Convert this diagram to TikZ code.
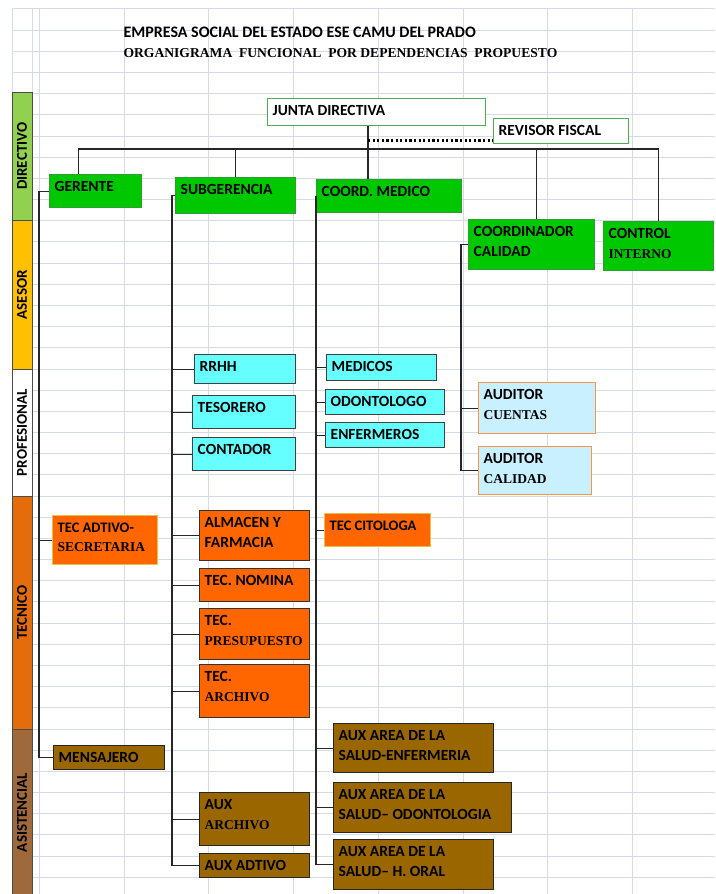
\documentclass[tikz,border=0pt]{standalone}
\usepackage{fontspec}
\setmainfont{Carlito}
\newfontfamily\tms{Liberation Serif}
\usepackage{tikz}
\usetikzlibrary{arrows.meta}

\definecolor{gridc}{HTML}{D5DAE6}
\definecolor{bandgreen}{HTML}{92D050}
\definecolor{bandyellow}{HTML}{FFC000}
\definecolor{bandorange}{HTML}{E46C0A}
\definecolor{bandbrown}{HTML}{A0693C}
\definecolor{boxgreen}{HTML}{00C800}
\definecolor{boxgreenline}{HTML}{2E9E2E}
\definecolor{framegreen}{HTML}{4CAF50}
\definecolor{cyanfill}{HTML}{66FFFF}
\definecolor{orangefill}{HTML}{FF6600}
\definecolor{goldline}{HTML}{E8C04A}
\definecolor{brownfill}{HTML}{996600}
\definecolor{paleblue}{HTML}{C9F0FF}
\definecolor{paleline}{HTML}{F79646}

\newcommand\srf[1]{{\tms\fontsize{13.5}{19.5}\selectfont #1}}

\tikzset{
    box/.style={anchor=north west, inner sep=0pt, line width=1.2pt},
    greenbox/.style={box, fill=boxgreen, draw=boxgreenline},
    topbox/.style={box, fill=white, draw=framegreen},
    cyanbox/.style={box, fill=cyanfill, draw=black!75},
    orangebox/.style={box, fill=orangefill, draw=black!80},
    techbox/.style={box, fill=orangefill, draw=goldline},
    brownbox/.style={box, fill=brownfill, draw=black!85},
    palebox/.style={box, fill=paleblue, draw=paleline},
    lbl/.style={anchor=north west, align=left, inner xsep=5.5pt, inner ysep=7.5pt,
        font=\fontsize{15.5}{19.5}\selectfont\bfseries},
    narrow/.style={font=\fontsize{14.5}{19.5}\selectfont\bfseries},
    band/.style={draw=black!70, line width=0.8pt, rotate=90, minimum height=20,
        inner sep=0pt, font=\fontsize{15}{18}\selectfont\bfseries},
    gridline/.style={draw=gridc, line width=0.9pt},
    link/.style={draw=black!85, line width=1.1pt},
    dots/.style={draw=black, line width=2.3pt, dash pattern=on 2.2pt off 2.4pt}
}

\begin{document}
\begin{tikzpicture}[x=1pt,y=-1pt]
    \useasboundingbox (0,0) rectangle (715,894);
    \fill[white] (0,0) rectangle (715,894);
    \foreach \gx in {12,32,39.5,124.2,208.9,293.6,378.3,463,547.7,632.4,717}
        \draw[gridline] (\gx,8.9) -- (\gx,894);
    \foreach \n in {0,...,41}
        \draw[gridline] (12,{8.9+21.18*\n}) -- (715,{8.9+21.18*\n});

    \node[band, fill=bandgreen, minimum width=128.7] (bdir) at (22,156.35) {DIRECTIVO};
    \node[band, fill=bandyellow, minimum width=148.3] (base) at (22,294.85) {ASESOR};
    \node[band, fill=white, minimum width=127] (bpro) at (22,432.5) {PROFESIONAL};
    \node[band, fill=bandorange, minimum width=233] (btec) at (22,612.5) {TECNICO};
    \node[band, fill=bandbrown, minimum width=167] (basi) at (22,812.5) {ASISTENCIAL};

    \node[anchor=base west, font=\fontsize{16}{19}\selectfont\bfseries] (title) at (120,37)
        {EMPRESA SOCIAL DEL ESTADO ESE CAMU DEL PRADO};
    \node[anchor=base west, font=\tms\fontsize{13.6}{16}\selectfont\bfseries] (subtitle) at (120,57)
        {ORGANIGRAMA\ \ FUNCIONAL\ \ POR DEPENDENCIAS\ \ PROPUESTO};

    \node[topbox, minimum width=218, minimum height=27,
        label={[lbl]north west:JUNTA DIRECTIVA}] (junta) at (267,98) {};
    \node[topbox, minimum width=135, minimum height=25,
        label={[lbl]north west:REVISOR FISCAL}] (revisor) at (493,118) {};

    \node[greenbox, minimum width=92, minimum height=33, label={[lbl]north west:GERENTE}] (ger) at (49,174) {};
    \node[greenbox, minimum width=120, minimum height=36, label={[lbl]north west:SUBGERENCIA}] (sub) at (175,177) {};
    \node[greenbox, minimum width=145, minimum height=33, label={[lbl]north west:COORD. MEDICO}] (cmed) at (316,179) {};
    \node[greenbox, minimum width=126, minimum height=50, label={[lbl]north west:COORDINADOR\\CALIDAD}] (ccal) at (468,219) {};
    \node[greenbox, minimum width=110, minimum height=49, label={[lbl]north west:CONTROL\\\srf{INTERNO}}] (ctrl) at (603,221) {};

    \node[cyanbox, minimum width=101, minimum height=29, label={[lbl]north west:RRHH}] (rrhh) at (194,354) {};
    \node[cyanbox, minimum width=103, minimum height=33, label={[lbl]north west:TESORERO}] (tes) at (192,395) {};
    \node[cyanbox, minimum width=103, minimum height=33, label={[lbl]north west:CONTADOR}] (cont) at (192,437) {};
    \node[cyanbox, minimum width=110, minimum height=26, label={[lbl]north west:MEDICOS}] (med) at (326,354) {};
    \node[cyanbox, minimum width=119, minimum height=25, label={[lbl]north west:ODONTOLOGO}] (odo) at (325,389) {};
    \node[cyanbox, minimum width=119, minimum height=25, label={[lbl]north west:ENFERMEROS}] (enf) at (325,422) {};
    \node[palebox, minimum width=117, minimum height=51, label={[lbl]north west:AUDITOR\\\srf{CUENTAS}}] (audcu) at (478,382) {};
    \node[palebox, minimum width=113, minimum height=48, label={[lbl]north west:AUDITOR\\\srf{CALIDAD}}] (audca) at (478,446) {};

    \node[techbox, minimum width=105, minimum height=49, label={[lbl, narrow]north west:TEC ADTIVO-\\\srf{SECRETARIA}}] (tecad) at (52,515) {};
    \node[orangebox, minimum width=110, minimum height=50, label={[lbl]north west:ALMACEN Y\\FARMACIA}] (alm) at (199,510) {};
    \node[orangebox, minimum width=110, minimum height=33, label={[lbl]north west:TEC. NOMINA}] (nom) at (199,568) {};
    \node[orangebox, minimum width=110, minimum height=51, label={[lbl]north west:TEC.\\\srf{PRESUPUESTO}}] (pres) at (199,608) {};
    \node[orangebox, minimum width=110, minimum height=53, label={[lbl]north west:TEC.\\\srf{ARCHIVO}}] (arch) at (199,664) {};
    \node[techbox, minimum width=106, minimum height=33, label={[lbl, narrow]north west:TEC CITOLOGA}] (cito) at (324,513) {};

    \node[brownbox, minimum width=111, minimum height=24, label={[lbl]north west:MENSAJERO}] (mens) at (53,745) {};
    \node[brownbox, minimum width=110, minimum height=53, label={[lbl]north west:AUX\\\srf{ARCHIVO}}] (auxar) at (199,792) {};
    \node[brownbox, minimum width=110, minimum height=24, label={[lbl]north west:AUX ADTIVO}] (auxad) at (199,853) {};
    \node[brownbox, minimum width=160, minimum height=49, label={[lbl]north west:AUX AREA DE LA\\SALUD-ENFERMERIA}] (auxenf) at (333,723) {};
    \node[brownbox, minimum width=178, minimum height=50, label={[lbl]north west:AUX AREA DE LA\\SALUD-- ODONTOLOGIA}] (auxodo) at (333,782) {};
    \node[brownbox, minimum width=160, minimum height=50, label={[lbl]north west:AUX AREA DE LA\\SALUD-- H. ORAL}] (auxoral) at (333,839) {};

    \coordinate (hub) at (368,149);
    \coordinate (dotR) at ([yshift=-9.5]revisor.west);
    \draw[link] ([xshift=-17]ger.north) |- (hub) -| (ctrl.north);
    \draw[link] (sub.north) -- (sub.north |- hub);
    \draw[link] (hub |- junta.south) -- (hub |- cmed.north);
    \draw[link] ([xshift=5]ccal.north) -- ([xshift=5]ccal.north |- hub);
    \draw[dots] (hub |- dotR) -- (dotR);

    \draw[link] (ger.west) -- ++(-10,0) coordinate (gsp) |- (mens.west);
    \draw[link] (gsp |- tecad.west) -- (tecad.west);

    \draw[link] (sub.west) -- ++(-3,0) coordinate (ssp) |- (auxad.west);
    \foreach \b in {rrhh,tes,cont,alm,nom,pres,arch,auxar}
        \draw[link] (ssp |- \b.west) -- (\b.west);

    \draw[link] (cmed.west) |- (auxoral.west);
    \foreach \b in {med,odo,enf,cito,auxenf,auxodo}
        \draw[link] (cmed.west |- \b.west) -- (\b.west);

    \draw[link] (ccal.west) -- ++(-7,0) coordinate (csp) |- (audca.west);
    \draw[link] (csp |- audcu.west) -- (audcu.west);
\end{tikzpicture}
\end{document}
